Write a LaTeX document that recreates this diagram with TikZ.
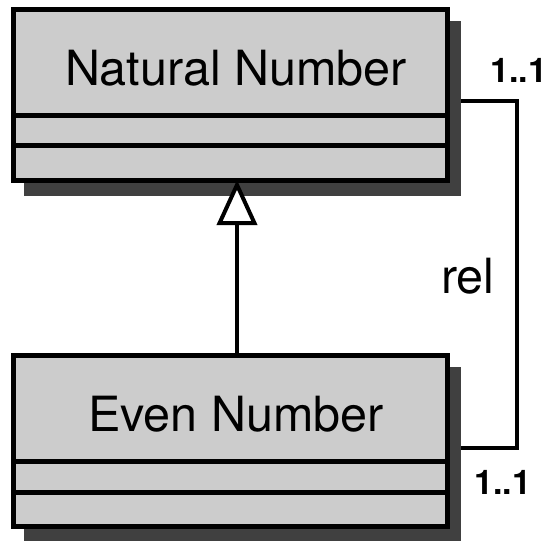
\documentclass[tikz,border=0pt]{standalone}
\usepackage{fontspec}
\setmainfont{TeX Gyre Heros}
\usetikzlibrary{arrows.meta,positioning,backgrounds}

\tikzset{
  classname/.style={draw, fill=black!20, line width=5pt, outer sep=0pt, inner sep=0pt,
    minimum width=434pt, minimum height=106pt, text height=46pt, text depth=0pt,
    font=\fontsize{48.5}{58}\selectfont, execute at begin node={\hspace*{11pt}}},
  classpart/.style={draw, fill=black!20, line width=5pt, outer sep=0pt, inner sep=0pt,
    minimum width=434pt},
  boxshadow/.style={fill=black!75},
  mult/.style={font=\fontsize{34}{40}\selectfont\bfseries, inner sep=0pt, anchor=base west},
  rolename/.style={font=\fontsize{48.5}{58}\selectfont, inner sep=0pt, anchor=base west},
  inherit/.style={line width=4pt, -{Triangle[open, fill=white, length=45pt, width=40pt]}},
  assoc/.style={line width=4pt},
}

\begin{document}
\begin{tikzpicture}[x=1pt,y=-1pt]
    \useasboundingbox (0,0) rectangle (548,540);

    % upper class
    \node[classname] (natural) at (230.5,62.5) {Natural Number};
    \node[classpart, minimum height=30.5pt, below=0pt of natural] (natattr) {};
    \node[classpart, minimum height=34pt, below=0pt of natattr] (natops) {};

    % lower class
    \node[classname] (even) at (230.5,408.5) {Even Number};
    \node[classpart, minimum height=30.5pt, below=0pt of even] (evenattr) {};
    \node[classpart, minimum height=34pt, below=0pt of evenattr] (evenops) {};

    \node[mult] (natmult) at (490,83) {1..1};
    \node[mult] (evenmult) at (474,494) {1..1};
    \node[rolename] (rel) at (441,293) {rel};

    \begin{scope}[on background layer]
      \draw[assoc] ([yshift=-38.5pt]natural.east) -- ++(69.5,0) |- ([yshift=-39.5pt]even.east);
      \fill[boxshadow] ([shift={(10.5pt,-11.5pt)}]natural.north west) rectangle ([shift={(13.5pt,-16pt)}]natops.south east);
      \fill[boxshadow] ([shift={(10.5pt,-11.5pt)}]even.north west) rectangle ([shift={(13.5pt,-16pt)}]evenops.south east);
    \end{scope}

    \draw[inherit] ([xshift=6.5pt]even.north) -- ([xshift=6.5pt]natops.south);
\end{tikzpicture}
\end{document}
